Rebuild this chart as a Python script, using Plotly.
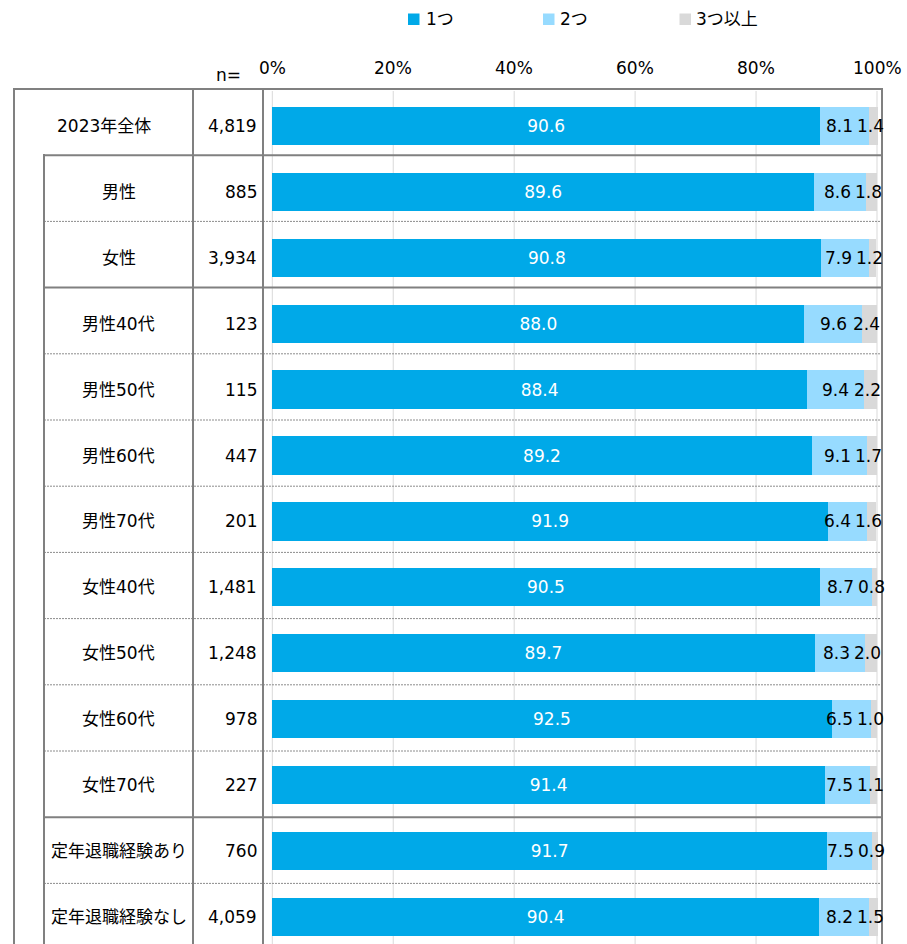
import plotly.graph_objects as go

categories = ["2023年全体", "男性", "女性", "男性40代", "男性50代", "男性60代", "男性70代",
              "女性40代", "女性50代", "女性60代", "女性70代", "定年退職経験あり", "定年退職経験なし"]
n_values = ["4,819", "885", "3,934", "123", "115", "447", "201",
            "1,481", "1,248", "978", "227", "760", "4,059"]
one = [90.6, 89.6, 90.8, 88.0, 88.4, 89.2, 91.9, 90.5, 89.7, 92.5, 91.4, 91.7, 90.4]
two = [8.1, 8.6, 7.9, 9.6, 9.4, 9.1, 6.4, 8.7, 8.3, 6.5, 7.5, 7.5, 8.2]
three = [1.4, 1.8, 1.2, 2.4, 2.2, 1.7, 1.6, 0.8, 2.0, 1.0, 1.1, 0.9, 1.5]
series_names = ["1つ", "2つ", "3つ以上"]
series_colors = ["#00A9E8", "#97DBFF", "#D9D9D9"]
x_ticks = [0, 20, 40, 60, 80, 100]
tick_labels = ["0%", "20%", "40%", "60%", "80%", "100%"]
n_header = "n="
# separator style per boundary between rows (index k: line above row k)
separator_styles = ["solid", "solid", "dot", "solid", "dot", "dot", "dot", "dot",
                    "dot", "dot", "dot", "solid", "dot"]

W, H = 907, 944
FONT = "DejaVu Sans, Noto Sans CJK JP, sans-serif"
FS = 17
LINE = "#808080"


def px(p):
    return p / W


def py(p):
    return 1 - p / H


x0_px, x100_px = 272.3, 877.0
scale = (x100_px - x0_px) / 100
xr = [-x0_px / scale, (W - x0_px) / scale]
bar_top = 126.0
row_bar = 65.9
yr = [(H - bar_top) / row_bar, -bar_top / row_bar]

fig = go.Figure()
for k, (name, vals, col) in enumerate(zip(series_names, [one, two, three], series_colors)):
    fig.add_trace(go.Bar(
        y=categories, x=vals, name=name, orientation="h",
        marker=dict(color=col, line=dict(width=0)),
        width=0.58,
        text=[f"{v:.1f}" for v in vals] if k == 0 else None,
        textposition="inside" if k == 0 else "none",
        insidetextanchor="middle", textangle=0,
        constraintext="none",
        textfont=dict(family=FONT, size=FS, color="#FFFFFF"),
        showlegend=False,
        hoverinfo="skip",
    ))

shapes = []
# gridlines
for t in x_ticks:
    shapes.append(dict(type="line", xref="x", yref="paper", x0=t, x1=t,
                       y0=py(91), y1=0, line=dict(color="#D9D9D9", width=1), layer="below"))
# horizontal separators
ROW_PX = 66.2
for k, st in enumerate(separator_styles):
    yp = 89 + ROW_PX * k
    x_start = 14 if k == 0 else 44
    if st == "solid":
        ln = dict(color=LINE, width=2)
    else:
        ln = dict(color="#8c8c8c", width=1, dash="2px,1px")
    shapes.append(dict(type="line", xref="paper", yref="paper", x0=px(x_start), x1=px(882),
                       y0=py(yp), y1=py(yp), line=ln, layer="above"))
# vertical lines
for xv, ytop in [(14, 88), (44, 154), (193, 88), (263, 88), (882, 88)]:
    shapes.append(dict(type="line", xref="paper", yref="paper", x0=px(xv), x1=px(xv),
                       y0=py(ytop), y1=0, line=dict(color=LINE, width=2), layer="above"))

annotations = []
# tick labels
for t, lab in zip(x_ticks, tick_labels):
    annotations.append(dict(x=t, y=py(68), xref="x", yref="paper", text=lab, showarrow=False,
                            xanchor="center", yanchor="middle",
                            font=dict(family=FONT, size=FS, color="#000000")))
annotations.append(dict(x=px(228), y=py(75), xref="paper", yref="paper", text=n_header,
                        showarrow=False, xanchor="center", yanchor="middle",
                        font=dict(family=FONT, size=FS, color="#000000")))
# table text
for i, (c, n) in enumerate(zip(categories, n_values)):
    cx = 104 if i == 0 else 118.5
    annotations.append(dict(x=px(cx), y=c, xref="paper", yref="y", text=c, showarrow=False,
                            xanchor="center", yanchor="middle",
                            font=dict(family=FONT, size=FS, color="#000000")))
    annotations.append(dict(x=px(259), y=c, xref="paper", yref="y", text=n, showarrow=False,
                            xanchor="right", yanchor="middle",
                            font=dict(family=FONT, size=FS, color="#000000")))
# labels of the narrow segments, centred on their segment, nudged apart
for c, a, b, d in zip(categories, one, two, three):
    x3 = a + b + d / 2
    x2 = a + b / 2
    p3 = x0_px + scale * x3 - 3
    p2 = x0_px + scale * x2
    shift2 = min(0.0, (p3 - 31) - p2)
    annotations.append(dict(x=x2, y=c, xref="x", yref="y", text=f"{b:.1f}", showarrow=False,
                            xanchor="center", yanchor="middle", xshift=shift2,
                            font=dict(family=FONT, size=FS, color="#000000")))
    annotations.append(dict(x=x3, y=c, xref="x", yref="y", text=f"{d:.1f}", showarrow=False,
                            xanchor="center", yanchor="middle", xshift=-3,
                            font=dict(family=FONT, size=FS, color="#000000")))
# legend
for (sq_x, tx_x), name, col in zip([(408, 424), (543, 558), (679.5, 694)], series_names, series_colors):
    shapes.append(dict(type="rect", xref="paper", yref="paper", x0=px(sq_x), x1=px(sq_x + 11.5),
                       y0=py(13.5), y1=py(25), fillcolor=col, line=dict(width=0)))
    annotations.append(dict(x=px(tx_x), y=py(19), xref="paper", yref="paper", text=name,
                            showarrow=False, xanchor="left", yanchor="middle",
                            font=dict(family=FONT, size=FS, color="#000000")))

fig.update_layout(
    width=W, height=H,
    margin=dict(l=0, r=0, t=0, b=0),
    barmode="stack",
    plot_bgcolor="white", paper_bgcolor="white",
    xaxis=dict(range=xr, showgrid=False, zeroline=False, showticklabels=False, fixedrange=True),
    yaxis=dict(type="category", range=yr, showgrid=False, zeroline=False,
               showticklabels=False, fixedrange=True),
    shapes=shapes,
    annotations=annotations,
    font=dict(family=FONT, size=FS),
    showlegend=False,
    hovermode=False,
)

fig.write_html("out.html", config={"displayModeBar": False},
               post_script="document.body.style.margin='0';document.body.style.overflow='hidden';")
